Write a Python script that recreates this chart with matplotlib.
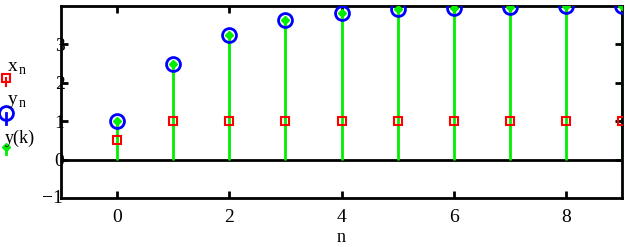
import numpy as np
import matplotlib
matplotlib.use("Agg")
import matplotlib.pyplot as plt
from matplotlib.lines import Line2D

# data
n = [0, 1, 2, 3, 4, 5, 6, 7, 8, 9]
x_n = [0.5, 1, 1, 1, 1, 1, 1, 1, 1, 1]
y_n = [1.0, 2.5, 3.25, 3.625, 3.81, 3.91, 3.95, 3.98, 3.99, 3.99]
y_k = y_n

plt.rcParams["font.family"] = ["Liberation Serif", "DejaVu Serif"]
plt.rcParams["font.size"] = 13

fig = plt.figure(figsize=(6.32, 2.47), dpi=100)
ax = fig.add_axes([61 / 632, 1 - 198 / 247, 561 / 632, 192 / 247])

# green stems from zero line
ax.vlines(n, 0, y_k, colors="#00ee00", lw=2, zorder=2)
ax.plot(n, x_n, ls="none", marker="s", ms=5.5, mfc="none", mec="red", mew=1.5, zorder=3)
ax.plot(n, y_n, ls="none", marker="o", ms=10, mfc="none", mec="blue", mew=2, zorder=4)
ax.plot(n, y_k, ls="none", marker="D", ms=4.5, color="#00ee00", zorder=5)
ax.axhline(0, color="black", lw=2, zorder=1)

ax.set_xlim(-1, 9)
ax.set_ylim(-1, 4)
ax.set_xticks([0, 2, 4, 6, 8])
ax.set_yticks([0, 1, 2, 3])
ax.tick_params(direction="in", length=5, width=2, top=True, right=True, labelsize=14)
ax.tick_params(axis="x", pad=8)
ax.tick_params(axis="y", pad=1)
for lab in ax.get_yticklabels():
    lab.set_horizontalalignment("center")
for s in ax.spines.values():
    s.set_linewidth(2)
ax.set_xlabel("n", labelpad=2)
fig.text(52 / 632, 1 - 198 / 247, "\u22121", ha="center", va="center", fontsize=14)

# legend drawn on the left like the original
fig.text(8 / 632, 1 - 66 / 247, "x", fontsize=14, va="center")
fig.text(19 / 632, 1 - 70 / 247, "n", fontsize=10, va="center")
fig.add_artist(Line2D([6 / 632], [1 - 78 / 247], marker="s", ms=5.5, mfc="none",
                      mec="red", mew=1.5, ls="none"))
fig.add_artist(Line2D([6 / 632, 6 / 632], [1 - 78 / 247, 1 - 86 / 247], color="red", lw=1.5))
fig.text(8 / 632, 1 - 99 / 247, "y", fontsize=14, va="center")
fig.text(19 / 632, 1 - 103 / 247, "n", fontsize=10, va="center")
fig.add_artist(Line2D([6 / 632], [1 - 113 / 247], marker="o", ms=10, mfc="none",
                      mec="blue", mew=2, ls="none"))
fig.add_artist(Line2D([6 / 632, 6 / 632], [1 - 113 / 247, 1 - 124 / 247], color="blue", lw=2))
fig.text(5 / 632, 1 - 138 / 247, "y(k)", fontsize=13, va="center")
fig.add_artist(Line2D([6 / 632], [1 - 147 / 247], marker="D", ms=4.5, color="#00ee00", ls="none"))
fig.add_artist(Line2D([6 / 632, 6 / 632], [1 - 147 / 247, 1 - 154 / 247], color="#00ee00", lw=2))

fig.savefig("out.png", dpi=100)
